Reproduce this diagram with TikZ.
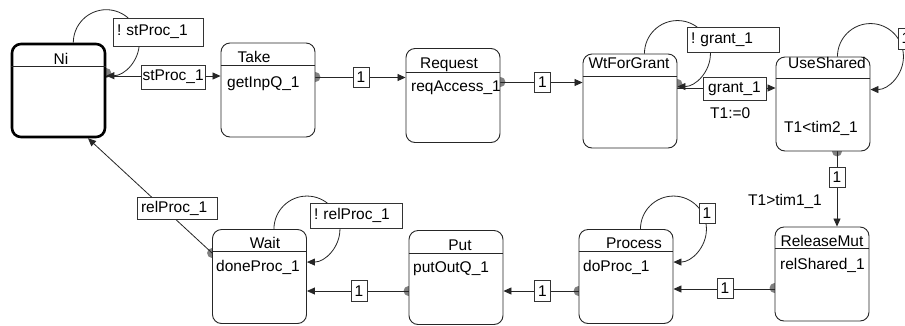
\documentclass[tikz,border=0pt]{standalone}
\usepackage{fontspec}
\setmainfont{Liberation Sans}
\usetikzlibrary{arrows.meta,calc,backgrounds}

\tikzset{
  every node/.style={font=\fontsize{15.5}{18}\selectfont\frenchspacing},
  stbox/.style={draw=black!85, line width=0.9pt, rounded corners=9pt, fill=white,
                minimum width=94pt, minimum height=94pt, inner sep=0pt},
  initbox/.style={stbox, draw=black, line width=2.6pt, minimum width=93pt, minimum height=93pt},
  sepline/.style={draw=black!85, line width=0.9pt},
  ttl/.style={inner sep=0pt, anchor=base},
  txt/.style={inner sep=0pt, anchor=base west},
  lbl/.style={draw=black!80, fill=white, line width=0.8pt, inner ysep=0pt, inner xsep=4pt, align=left},
  lblc/.style={draw=black!80, fill=white, line width=0.8pt, inner sep=0pt},
  tr/.style={draw=black!85, line width=0.8pt, -{Triangle[length=8pt,width=7pt]}},
  srcdot/.style={fill=black!50},
}

% self transition: quarter arcs round the box's upper right corner
\newcommand\stloop[1]{%
  \draw[tr] ($(#1.north east)+(-33,0)$) .. controls +(0,-18.2) and +(-18.2,0) .. ($(#1.north east)+(0,-33)$)
     .. controls +(18.2,0) and +(0,-18.2) .. ($(#1.north east)+(33,0)$)
     .. controls +(0,18.2) and +(18.2,0) .. ($(#1.north east)+(0,33)$);}

\begin{document}
\begin{tikzpicture}[x=1pt,y=-1pt]
\useasboundingbox (0,0) rectangle (905,325);

% states
\node[initbox] (ni)   at (58.5,90.5) {};
\node[stbox]   (take) at (268,90)    {};
\node[stbox]   (req)  at (453,95.5)  {};
\node[stbox]   (wfg)  at (630,101)   {};
\node[stbox]   (use)  at (823,104)   {};
\node[stbox]   (rel)  at (822,274)   {};
\node[stbox]   (proc) at (626,276.5) {};
\node[stbox]   (put)  at (456,277.5) {};
\node[stbox]   (wait) at (259.5,276.5) {};

% header separators
\draw[sepline] (ni.west |- 0,66)   -- (ni.east |- 0,66);
\draw[sepline] (take.west |- 0,65) -- (take.east |- 0,65);
\draw[sepline] (req.west |- 0,72)  -- (req.east |- 0,72);
\draw[sepline] (wfg.west |- 0,76)  -- (wfg.east |- 0,76);
\draw[sepline] (use.west |- 0,78)  -- (use.east |- 0,78);
\draw[sepline] (rel.west |- 0,248) -- (rel.east |- 0,248);
\draw[sepline] (proc.west |- 0,251) -- (proc.east |- 0,251);
\draw[sepline] (put.west |- 0,253) -- (put.east |- 0,253);
\draw[sepline] (wait.west |- 0,251) -- (wait.east |- 0,251);

% state names
\node[ttl] (niT)   at (61,64)   {Ni};
\node[ttl] (takeT) at (254,62)  {Take};
\node[ttl] (reqT)  at (449,68)  {Request};
\node[ttl] (wfgT)  at (629,68)  {WtForGrant};
\node[ttl] (useT)  at (827,68)  {UseShared};
\node[ttl] (relT)  at (822,246) {ReleaseMut};
\node[ttl] (procT) at (634,248) {Process};
\node[ttl] (putT)  at (460,250) {Put};
\node[ttl] (waitT) at (265,248) {Wait};

% state actions
\node[txt] (takeB) at (227,87)  {getInpQ\_1};
\node[txt] (reqB)  at (411,91)  {reqAccess\_1};
\node[txt] (useB)  at (784,132) {T1<tim2\_1};
\node[txt] (relB)  at (780,269) {relShared\_1};
\node[txt] (procB) at (583,271) {doProc\_1};
\node[txt] (putB)  at (413,272) {putOutQ\_1};
\node[txt] (waitB) at (216,271) {doneProc\_1};

\begin{pgfonlayer}{background}
  \fill[white] (0,0) rectangle (905,325);
  % source markers
  \fill[srcdot] (ni.east |- 0,73)   circle (5pt);
  \fill[srcdot] (take.east |- 0,77) circle (5pt);
  \fill[srcdot] (req.east |- 0,82)  circle (5pt);
  \fill[srcdot] (wfg.east |- 0,84)  circle (5pt);
  \fill[srcdot] (use.south -| 837,0) circle (5pt);
  \fill[srcdot] (rel.west |- 0,288) circle (5pt);
  \fill[srcdot] (proc.west |- 0,291) circle (5pt);
  \fill[srcdot] (put.west |- 0,291) circle (5pt);
  \fill[srcdot] (wait.west |- 0,253) circle (5pt);
  % transitions
  \draw[tr] (ni.east |- 0,76)    -- (take.west |- 0,76);
  \draw[tr] (take.east |- 0,77.5) -- (req.west |- 0,77.5);
  \draw[tr] (req.east |- 0,82.5) -- (wfg.west |- 0,82.5);
  \draw[tr] (wfg.east |- 0,88)   -- (use.west |- 0,88);
  \draw[tr] (use.south -| 837,0) -- (rel.north -| 837,0);
  \draw[tr] (rel.west |- 0,289)  -- (proc.east |- 0,289);
  \draw[tr] (proc.west |- 0,291) -- (put.east |- 0,291);
  \draw[tr] (put.west |- 0,291)  -- (wait.east |- 0,291);
  \draw[tr] (wait.west |- 0,253) -- (ni.south -| 88,0);
  \stloop{ni}
  \stloop{wfg}
  \stloop{use}
  \stloop{proc}
  \stloop{wait}
\end{pgfonlayer}

% transition labels
\node[lbl, minimum height=28pt, text width=82pt] (lNi)   at (158,32)    {! stProc\_1};
\node[lbl, minimum height=24pt, text width=61pt, inner xsep=1.5pt] (lSt) at (173,77) {stProc\_1};
\node[lblc, minimum width=16pt, minimum height=20pt] (lTR)  at (361,77)    {1};
\node[lblc, minimum width=16pt, minimum height=20pt] (lRW)  at (542.5,82)  {1};
\node[lbl, minimum height=25pt, text width=84pt] (lWl)   at (733,39.5)  {! grant\_1};
\node[lblc, minimum width=63pt, minimum height=23pt] (lGr) at (734.5,88.5) {grant\_1};
\node[txt] (lGa) at (710,118) {T1:=0};
\node[lblc, minimum width=16pt, minimum height=21pt] (lUl)  at (906,38.5)  {1};
\node[lblc, minimum width=16pt, minimum height=20pt] (lUR)  at (837,177)   {1};
\node[txt] (lUg) at (748,205) {T1>tim1\_1};
\node[lblc, minimum width=16pt, minimum height=20pt] (lRP)  at (725,288)   {1};
\node[lblc, minimum width=16pt, minimum height=20pt] (lPl)  at (707,213)   {1};
\node[lblc, minimum width=16pt, minimum height=21pt] (lPP)  at (542.5,291) {1};
\node[lblc, minimum width=16pt, minimum height=21pt] (lPW)  at (359,291)   {1};
\node[lbl, minimum height=25pt, text width=84pt] (lWt)   at (356,215.5) {! relProc\_1};
\node[lbl, minimum height=22pt, text width=72pt] (lWN)   at (177,208)   {relProc\_1};
\end{tikzpicture}
\end{document}
